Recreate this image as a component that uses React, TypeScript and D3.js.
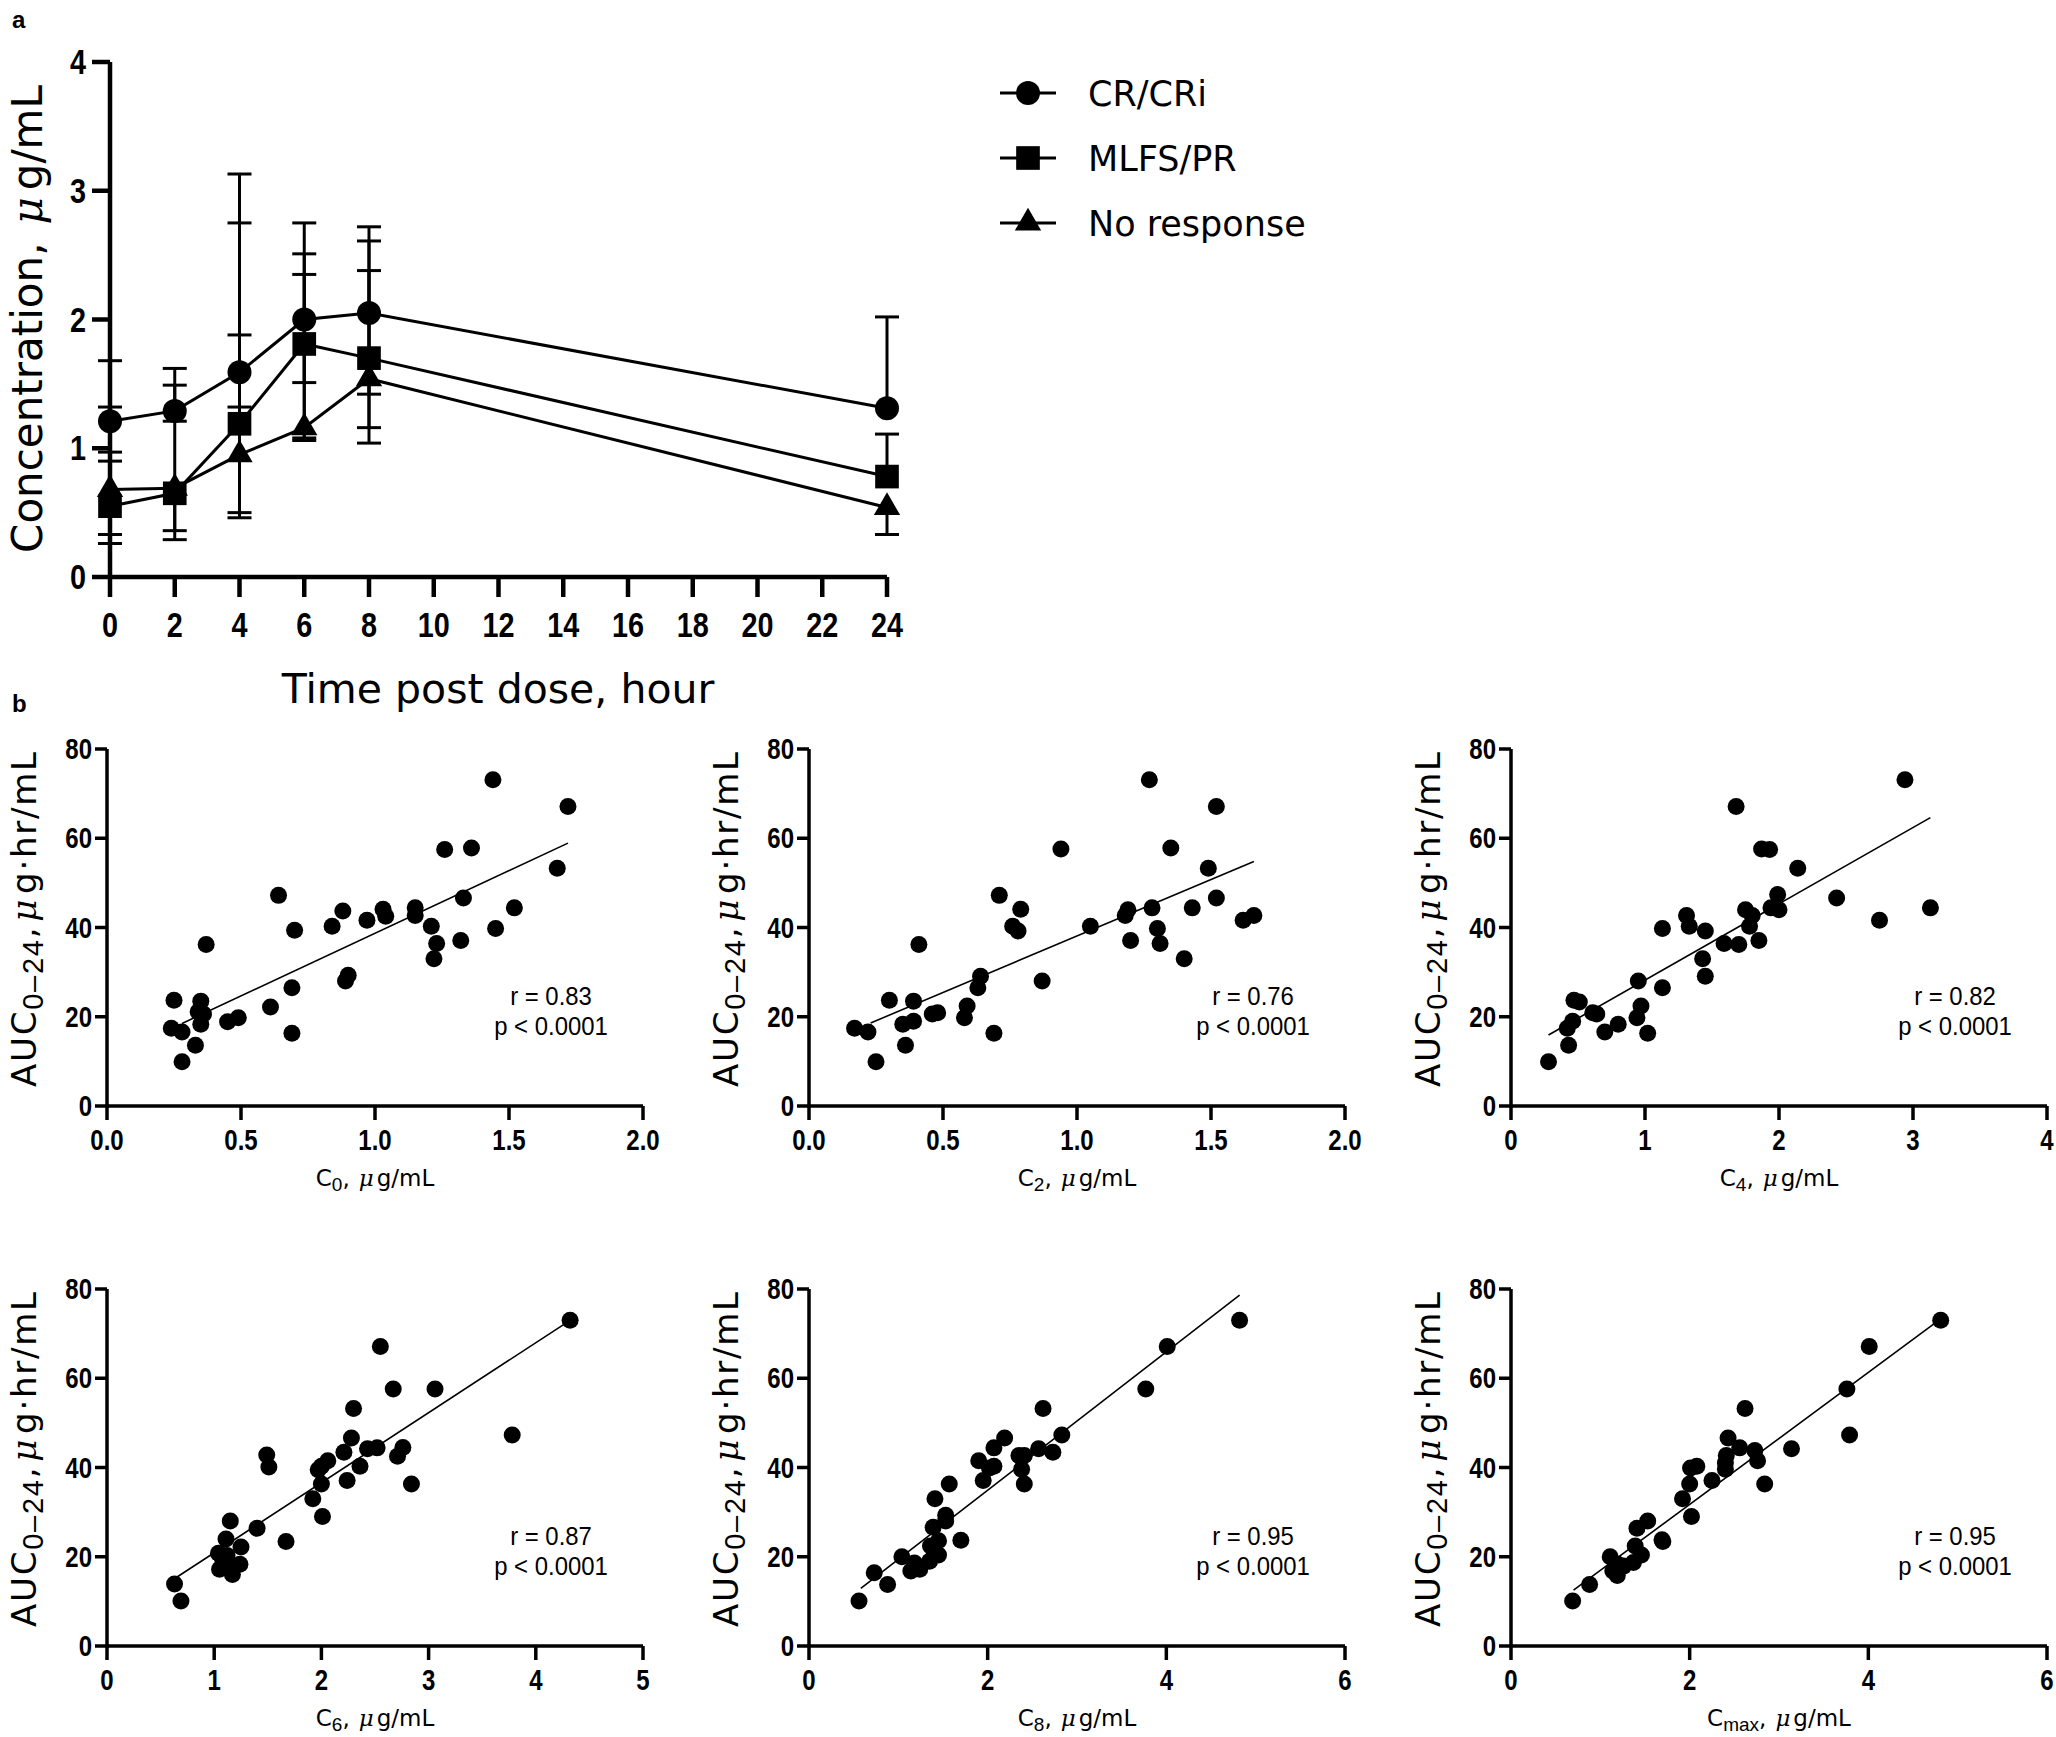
import React from "react";
import * as d3 from "d3";

// ---------- Panel a data ----------
const timePoints = [0, 2, 4, 6, 8, 24];
const timeTicks = [0, 2, 4, 6, 8, 10, 12, 14, 16, 18, 20, 22, 24];
const concTicks = [0, 1, 2, 3, 4];
const seriesNames = ["CR/CRi", "MLFS/PR", "No response"];
const crMean = [1.21, 1.29, 1.59, 2.0, 2.05, 1.31];
const crLow = [0.9, 1.21, 1.32, 1.51, 1.42, 1.31];
const crHigh = [1.68, 1.62, 3.13, 2.75, 2.72, 2.02];
const mlfsMean = [0.55, 0.65, 1.19, 1.81, 1.7, 0.78];
const mlfsLow = [0.26, 0.29, 0.46, 1.06, 1.04, 0.78];
const mlfsHigh = [0.97, 1.49, 2.75, 2.51, 2.61, 1.11];
const noneMean = [0.68, 0.69, 0.95, 1.16, 1.54, 0.54];
const noneLow = [0.33, 0.36, 0.5, 1.08, 1.16, 0.33];
const noneHigh = [1.32, 0.69, 1.88, 2.35, 2.38, 0.54];

// ---------- Panel b data ----------
const c0Conc = [1.44, 1.72, 1.26, 1.36, 1.68, 0.64, 1.33, 1.52, 0.88, 1.03, 1.04, 1.15, 1.15, 0.97, 0.84, 1.21, 0.7, 1.45, 1.23, 1.32, 0.37, 1.22, 0.9, 0.89, 0.69, 0.25, 0.35, 0.61, 0.34, 0.36, 0.49, 0.45, 0.35, 0.24, 0.28, 0.69, 0.33, 0.28];
const c0Auc = [73.1, 67.1, 57.5, 57.8, 53.3, 47.2, 46.6, 44.4, 43.7, 44.1, 42.5, 44.4, 42.7, 41.6, 40.3, 40.3, 39.4, 39.8, 36.4, 37.1, 36.2, 33.0, 29.3, 28.0, 26.5, 23.7, 23.5, 22.2, 21.1, 20.6, 19.8, 18.9, 18.3, 17.4, 16.6, 16.3, 13.6, 9.9];

const c2Conc = [1.27, 1.52, 0.94, 1.35, 1.49, 0.71, 1.52, 0.79, 1.28, 1.43, 1.19, 1.18, 1.66, 1.62, 1.05, 0.76, 0.78, 1.3, 1.2, 1.31, 0.41, 1.4, 0.87, 0.64, 0.63, 0.3, 0.39, 0.59, 0.48, 0.46, 0.58, 0.39, 0.35, 0.17, 0.22, 0.69, 0.36, 0.25];
const c2Auc = [73.1, 67.1, 57.6, 57.8, 53.3, 47.2, 46.6, 44.1, 44.4, 44.4, 44.0, 42.7, 42.7, 41.6, 40.3, 40.3, 39.2, 39.8, 37.1, 36.4, 36.2, 33.0, 28.0, 29.1, 26.5, 23.7, 23.5, 22.4, 20.9, 20.6, 19.8, 19.0, 18.3, 17.4, 16.6, 16.3, 13.6, 9.9];

const c4Conc = [2.94, 1.68, 1.87, 1.93, 2.14, 2.43, 1.99, 3.13, 1.94, 2.0, 1.75, 1.8, 1.31, 2.75, 1.33, 1.78, 1.13, 1.45, 1.85, 1.59, 1.7, 1.43, 1.45, 0.95, 1.13, 0.47, 0.51, 0.97, 0.61, 0.64, 0.94, 0.46, 0.8, 0.42, 0.7, 1.02, 0.43, 0.28];
const c4Auc = [73.1, 67.1, 57.6, 57.5, 53.3, 46.6, 47.4, 44.4, 44.4, 44.0, 44.0, 42.7, 42.7, 41.6, 40.3, 40.3, 39.8, 39.2, 37.1, 36.4, 36.2, 33.0, 29.1, 28.0, 26.5, 23.7, 23.3, 22.4, 20.9, 20.6, 19.8, 19.0, 18.3, 17.4, 16.6, 16.3, 13.6, 9.9];

const c6Conc = [4.32, 2.55, 2.67, 3.06, 2.3, 3.78, 2.28, 2.43, 2.52, 2.76, 2.21, 2.71, 1.49, 2.06, 1.51, 2.36, 1.97, 2.0, 2.24, 2.0, 2.84, 1.92, 2.01, 1.15, 1.4, 1.11, 1.67, 1.25, 1.04, 1.12, 1.08, 1.24, 1.05, 1.14, 1.17, 0.63, 0.69, 1.1];
const c6Auc = [73.0, 67.1, 57.6, 57.6, 53.2, 47.3, 46.6, 44.2, 44.4, 44.5, 43.4, 42.5, 42.8, 41.5, 40.1, 40.3, 39.5, 40.3, 37.1, 36.3, 36.3, 33.0, 29.0, 28.0, 26.4, 24.0, 23.4, 22.2, 20.8, 20.3, 19.2, 18.3, 17.2, 17.4, 16.0, 13.9, 10.1, 18.0];

const c8Conc = [4.82, 4.01, 3.77, 2.62, 2.83, 2.19, 2.07, 2.57, 2.73, 2.35, 2.41, 1.9, 2.07, 2.02, 2.38, 1.95, 2.41, 1.57, 1.41, 1.53, 1.53, 1.39, 1.7, 1.45, 1.36, 1.4, 1.45, 1.04, 1.35, 1.18, 1.24, 1.14, 0.73, 0.88, 0.56];
const c8Auc = [73.0, 67.1, 57.6, 53.2, 47.3, 46.6, 44.4, 44.2, 43.4, 42.7, 42.7, 41.5, 40.3, 39.9, 39.6, 37.1, 36.3, 36.3, 33.0, 29.3, 28.0, 26.6, 23.7, 23.6, 22.4, 21.2, 20.4, 20.0, 19.0, 18.6, 17.2, 16.8, 16.4, 13.8, 10.1];

const cmaxConc = [4.81, 4.01, 3.76, 2.62, 3.79, 2.43, 3.14, 2.56, 2.73, 2.41, 2.76, 2.08, 2.01, 2.4, 2.25, 2.0, 2.84, 1.92, 2.02, 1.53, 1.41, 1.69, 1.39, 1.46, 1.11, 1.37, 1.26, 1.14, 1.19, 0.88, 0.69, 1.19, 1.7, 2.4];
const cmaxAuc = [73.0, 67.1, 57.6, 53.2, 47.3, 46.6, 44.2, 44.4, 43.8, 42.7, 41.5, 40.3, 39.9, 39.6, 37.1, 36.3, 36.3, 33.0, 29.0, 28.0, 26.4, 23.8, 22.4, 20.4, 20.0, 18.7, 17.9, 16.8, 15.8, 13.8, 10.1, 18.4, 23.4, 41.0];

// regression fits: [slope, intercept, xStart, xEnd]
const fitC0 = [28.06, 10.64, 0.28, 1.72];
const fitC2 = [25.31, 12.78, 0.23, 1.66];
const fitC4 = [17.09, 11.12, 0.28, 3.13];
const fitC6 = [15.69, 5.2, 0.65, 4.32];
const fitC8 = [15.5, 3.91, 0.58, 4.82];
const fitCmax = [14.79, 2.15, 0.7, 4.81];

const aucTicks = [0, 20, 40, 60, 80];
const rValues = ["0.83", "0.76", "0.82", "0.87", "0.95", "0.95"];
const pValueText = "p < 0.0001";

const SANS = "'Liberation Sans', Arial, sans-serif";
const GOTHIC = "'DejaVu Sans', 'Noto Sans', sans-serif";
const MU = "'DejaVu Serif', serif";

function CText({ x, y, size, bold, anchor, squeeze = 0.8, children }: { x: number; y: number; size: number; bold?: boolean; anchor: string; squeeze?: number; children: React.ReactNode }) {
  return (
    <text
      transform={`translate(${x},${y}) scale(${squeeze},1)`}
      textAnchor={anchor}
      fontFamily={SANS}
      fontWeight={bold ? "bold" : "normal"}
      fontSize={size}
    >
      {children}
    </text>
  );
}

function PanelA() {
  const x = d3.scaleLinear().domain([0, 24]).range([110, 887]);
  const y = d3.scaleLinear().domain([0, 4]).range([577, 62]);
  const series = [
    { name: seriesNames[0], mean: crMean, lo: crLow, hi: crHigh, shape: d3.symbolCircle, size: 452 },
    { name: seriesNames[1], mean: mlfsMean, lo: mlfsLow, hi: mlfsHigh, shape: d3.symbolSquare, size: 560 },
    { name: seriesNames[2], mean: noneMean, lo: noneLow, hi: noneHigh, shape: d3.symbolTriangle, size: 300 },
  ];
  const line = d3
    .line<number>()
    .x((_, i) => x(timePoints[i]))
    .y((d) => y(d));
  const capW = 12;
  return (
    <g>
      {series.map((s, si) =>
        timePoints.map((t, i) => (
          <g key={`e${si}-${i}`} stroke="#000" strokeWidth={3}>
            <line x1={x(t)} x2={x(t)} y1={y(s.lo[i])} y2={y(s.hi[i])} />
            {s.hi[i] > s.mean[i] && <line x1={x(t) - capW} x2={x(t) + capW} y1={y(s.hi[i])} y2={y(s.hi[i])} />}
            {s.lo[i] < s.mean[i] && <line x1={x(t) - capW} x2={x(t) + capW} y1={y(s.lo[i])} y2={y(s.lo[i])} />}
          </g>
        ))
      )}
      {series.map((s, si) => (
        <path key={`l${si}`} d={line(s.mean) || ""} fill="none" stroke="#000" strokeWidth={3} />
      ))}
      {series.map((s, si) =>
        s.mean.map((v, i) => (
          <path
            key={`m${si}-${i}`}
            transform={`translate(${x(timePoints[i])},${y(v)})`}
            d={d3.symbol().type(s.shape).size(s.size)() || ""}
            fill="#000"
          />
        ))
      )}
      <line x1={x(0)} x2={x(24)} y1={y(0)} y2={y(0)} stroke="#000" strokeWidth={4.5} />
      <line x1={x(0)} x2={x(0)} y1={y(0) + 2} y2={y(4)} stroke="#000" strokeWidth={4.5} />
      {timeTicks.map((t) => (
        <g key={`xt${t}`}>
          <line x1={x(t)} x2={x(t)} y1={y(0)} y2={y(0) + 20} stroke="#000" strokeWidth={4.5} />
          <CText x={x(t)} y={y(0) + 60} size={36} bold anchor="middle">
            {t}
          </CText>
        </g>
      ))}
      {concTicks.map((v) => (
        <g key={`yt${v}`}>
          <line x1={x(0) - 18} x2={x(0)} y1={y(v)} y2={y(v)} stroke="#000" strokeWidth={4.5} />
          <CText x={x(0) - 24} y={y(v) + 12} size={36} bold anchor="end">
            {v}
          </CText>
        </g>
      ))}
      <text transform={`translate(${42},${319}) rotate(-90)`} textAnchor="middle" fontFamily={GOTHIC} fontSize={42}>
        Concentration,
        <tspan dx={18} fontFamily={MU} fontStyle="italic">
          μ
        </tspan>
        <tspan dx={7}>g/mL</tspan>
      </text>
      <text x={498} y={703} textAnchor="middle" fontFamily={GOTHIC} fontSize={41}>
        Time post dose, hour
      </text>
      {series.map((s, si) => {
        const ly = 93 + si * 65;
        return (
          <g key={`lg${si}`}>
            <line x1={1000} x2={1056} y1={ly} y2={ly} stroke="#000" strokeWidth={3} />
            <path transform={`translate(1028,${ly})`} d={d3.symbol().type(s.shape).size(s.size)() || ""} fill="#000" />
            <text x={1088} y={ly + 13} fontFamily={GOTHIC} fontSize={35}>
              {s.name}
            </text>
          </g>
        );
      })}
    </g>
  );
}

type ScatterProps = {
  left: number;
  bottom: number;
  xMax: number;
  xTicks: number[];
  decimals: number;
  xs: number[];
  ys: number[];
  fit: number[];
  sub: string;
  r: string;
};

function Scatter({ left, bottom, xMax, xTicks, decimals, xs, ys, fit, sub, r }: ScatterProps) {
  const width = 536;
  const height = 357;
  const x = d3.scaleLinear().domain([0, xMax]).range([left, left + width]);
  const y = d3.scaleLinear().domain([0, 80]).range([bottom, bottom - height]);
  const fmt = d3.format(`.${decimals}f`);
  const [slope, intercept, x0, x1] = fit;
  const sw = 3.5;
  return (
    <g>
      <line x1={x(x0)} y1={y(intercept + slope * x0)} x2={x(x1)} y2={y(intercept + slope * x1)} stroke="#000" strokeWidth={1.6} />
      {xs.map((v, i) => (
        <circle key={i} cx={x(v)} cy={y(ys[i])} r={8.5} fill="#000" />
      ))}
      <line x1={left} x2={left + width} y1={bottom} y2={bottom} stroke="#000" strokeWidth={sw} />
      <line x1={left} x2={left} y1={bottom + 1.5} y2={bottom - height} stroke="#000" strokeWidth={sw} />
      {xTicks.map((t) => (
        <g key={`x${t}`}>
          <line x1={x(t)} x2={x(t)} y1={bottom} y2={bottom + 14} stroke="#000" strokeWidth={sw} />
          <CText x={x(t)} y={bottom + 44} size={30} bold anchor="middle">
            {fmt(t)}
          </CText>
        </g>
      ))}
      {aucTicks.map((v) => (
        <g key={`y${v}`}>
          <line x1={left - 12} x2={left} y1={y(v)} y2={y(v)} stroke="#000" strokeWidth={sw} />
          <CText x={left - 15} y={y(v) + 10} size={30} bold anchor="end">
            {v}
          </CText>
        </g>
      ))}
      <text
        transform={`translate(${left - 71},${bottom - height / 2 - 8}) rotate(-90)`}
        textAnchor="middle"
        fontFamily={GOTHIC}
        fontSize={34}
        textLength={335}
        lengthAdjust="spacing"
      >
        AUC
        <tspan fontFamily={SANS} fontSize={29} dy={7}>
          0–24
        </tspan>
        <tspan dy={-7}>,</tspan>
        <tspan dx={4} fontFamily={MU} fontStyle="italic">
          μ
        </tspan>
        <tspan dx={4}>g·hr/mL</tspan>
      </text>
      <text x={left + width / 2} y={bottom + 80} textAnchor="middle" fontFamily={GOTHIC} fontSize={23}>
        C
        <tspan fontFamily={SANS} fontSize={19} dy={5}>
          {sub}
        </tspan>
        <tspan dy={-5}>,</tspan>
        <tspan dx={9} fontFamily={MU} fontStyle="italic">
          μ
        </tspan>
        <tspan dx={3}>g/mL</tspan>
      </text>
      <CText x={left + 444} y={bottom - 101} size={26} squeeze={0.92} anchor="middle">
        r = {r}
      </CText>
      <CText x={left + 444} y={bottom - 71} size={26} squeeze={0.92} anchor="middle">
        {pValueText}
      </CText>
    </g>
  );
}

export default function App() {
  const row1 = 1106;
  const row2 = 1646;
  const cols = [107, 809, 1511];
  return (
    <div style={{ position: "absolute", left: 0, top: 0 }}>
      <svg width={2056} height={1737} style={{ display: "block", background: "#fff" }}>
        <rect width={2056} height={1737} fill="#fff" />
        <text x={12} y={28} fontFamily={SANS} fontWeight="bold" fontSize={24}>
          a
        </text>
        <text x={12} y={712} fontFamily={SANS} fontWeight="bold" fontSize={24}>
          b
        </text>
        <PanelA />
        <Scatter left={cols[0]} bottom={row1} xMax={2} xTicks={[0, 0.5, 1, 1.5, 2]} decimals={1} xs={c0Conc} ys={c0Auc} fit={fitC0} sub="0" r={rValues[0]} />
        <Scatter left={cols[1]} bottom={row1} xMax={2} xTicks={[0, 0.5, 1, 1.5, 2]} decimals={1} xs={c2Conc} ys={c2Auc} fit={fitC2} sub="2" r={rValues[1]} />
        <Scatter left={cols[2]} bottom={row1} xMax={4} xTicks={[0, 1, 2, 3, 4]} decimals={0} xs={c4Conc} ys={c4Auc} fit={fitC4} sub="4" r={rValues[2]} />
        <Scatter left={cols[0]} bottom={row2} xMax={5} xTicks={[0, 1, 2, 3, 4, 5]} decimals={0} xs={c6Conc} ys={c6Auc} fit={fitC6} sub="6" r={rValues[3]} />
        <Scatter left={cols[1]} bottom={row2} xMax={6} xTicks={[0, 2, 4, 6]} decimals={0} xs={c8Conc} ys={c8Auc} fit={fitC8} sub="8" r={rValues[4]} />
        <Scatter left={cols[2]} bottom={row2} xMax={6} xTicks={[0, 2, 4, 6]} decimals={0} xs={cmaxConc} ys={cmaxAuc} fit={fitCmax} sub="max" r={rValues[5]} />
      </svg>
    </div>
  );
}
